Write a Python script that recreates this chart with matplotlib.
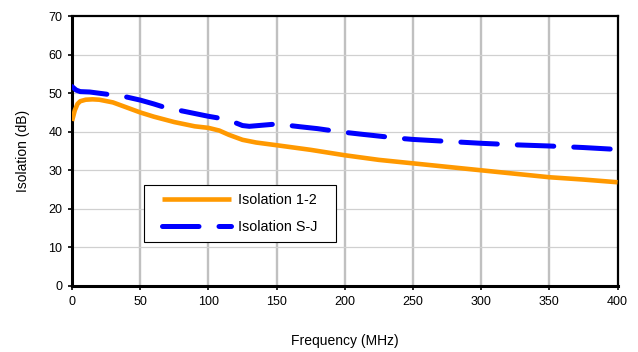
import matplotlib
matplotlib.use("Agg")
import matplotlib.pyplot as plt
from matplotlib.patches import Rectangle

plt.rcParams['font.family'] = ['Liberation Sans', 'DejaVu Sans']

# ---------- Data ----------
freq_12 = [0, 2, 4, 6, 10, 15, 20, 30, 40, 50, 60, 75, 90, 100, 108, 115,
           125, 135, 150, 175, 200, 225, 250, 275, 300, 325, 350, 375, 400]
iso_12 = [42.8, 45.5, 47.2, 47.9, 48.3, 48.4, 48.3, 47.6, 46.3, 45.0, 43.9,
          42.5, 41.4, 41.0, 40.3, 39.2, 37.9, 37.2, 36.5, 35.3, 33.9, 32.7,
          31.8, 30.9, 30.0, 29.1, 28.2, 27.6, 26.9]

freq_sj = [0, 3, 6, 13, 26, 40, 50, 60, 69, 82, 100, 110, 120, 125, 130,
           140, 150, 167, 180, 196, 211, 240, 250, 275, 300, 325, 350, 375, 400]
iso_sj = [51.7, 50.8, 50.4, 50.3, 49.7, 49.0, 48.2, 47.2, 46.2, 45.3, 44.0,
          43.4, 42.3, 41.6, 41.4, 41.7, 42.0, 41.3, 40.8, 40.0, 39.4, 38.3,
          38.0, 37.5, 37.0, 36.6, 36.3, 35.9, 35.4]

x_ticks = [0, 50, 100, 150, 200, 250, 300, 350, 400]
y_ticks = [0, 10, 20, 30, 40, 50, 60, 70]

# ---------- Plotting ----------
fig = plt.figure(figsize=(6.38, 3.52), dpi=100)
ax = fig.add_axes([0.1129, 0.1875, 0.855, 0.767])

ax.plot(freq_12, iso_12, color="#FF9900", lw=3.3, label="Isolation 1-2",
        solid_capstyle="butt", zorder=3)
ax.plot(freq_sj, iso_sj, color="#0000FF", lw=3.6, label="Isolation S-J",
        ls=(0, (7.3, 4.0)), dash_capstyle="round", zorder=3)

ax.set_xlim(0, 400)
ax.set_ylim(0, 70)
ax.set_xticks(x_ticks)
ax.set_yticks(y_ticks)

for x in x_ticks[1:-1]:
    ax.axvline(x, color="#C0C0C0", lw=1.7, zorder=1)
for y in y_ticks[1:-1]:
    ax.axhline(y, color="#D0D0D0", lw=0.9, zorder=1)

for s in ax.spines.values():
    s.set_linewidth(1.6)
    s.set_color("black")
ax.spines['left'].set_linewidth(2.2)
ax.spines['bottom'].set_linewidth(2.2)

ax.tick_params(direction="out", length=3, width=1.2, labelsize=9, pad=4)
ax.set_xlabel("Frequency (MHz)", fontsize=10, labelpad=19)
ax.set_ylabel("Isolation (dB)", fontsize=10, labelpad=13)

# legend box (frame drawn separately so the padding matches the reference)
leg_box = (0.132, 0.163, 0.351, 0.211)
ax.add_patch(Rectangle(leg_box[:2], leg_box[2], leg_box[3], transform=ax.transAxes,
                       facecolor="white", edgecolor="black", lw=0.8, zorder=4))
leg = ax.legend(loc="center", bbox_to_anchor=leg_box, borderaxespad=0,
                fontsize=10.4, handlelength=4.8, handletextpad=0.5,
                labelspacing=0.95, borderpad=0, frameon=False)
leg.set_zorder(5)

fig.savefig("out.png", dpi=100)
